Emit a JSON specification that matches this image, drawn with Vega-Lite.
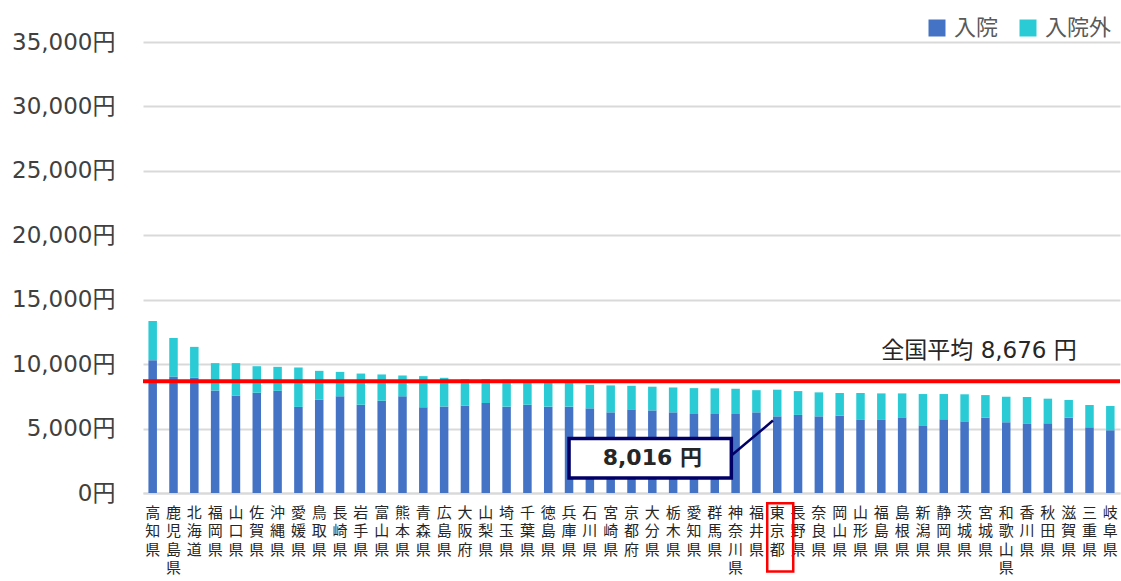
{
  "$schema": "https://vega.github.io/schema/vega-lite/v6.json",
  "autosize": {"type": "none"},
  "width": 977,
  "height": 451,
  "padding": {"left": 143, "top": 42, "right": 1, "bottom": 88},
  "background": "white",
  "config": {
    "view": {"stroke": null},
    "font": "DejaVu Sans, Noto Sans CJK JP, sans-serif"
  },
  "datasets": {
    "main": [
      {"pref": "高知県", "入院": 10310, "入院外": 3040},
      {"pref": "鹿児島県", "入院": 9040, "入院外": 2990},
      {"pref": "北海道", "入院": 8960, "入院外": 2380},
      {"pref": "福岡県", "入院": 7960, "入院外": 2120},
      {"pref": "山口県", "入院": 7570, "入院外": 2510},
      {"pref": "佐賀県", "入院": 7780, "入院外": 2060},
      {"pref": "沖縄県", "入院": 7930, "入院外": 1860},
      {"pref": "愛媛県", "入院": 6680, "入院外": 3060},
      {"pref": "鳥取県", "入院": 7260, "入院外": 2220},
      {"pref": "長崎県", "入院": 7500, "入院外": 1900},
      {"pref": "岩手県", "入院": 6850, "入院外": 2420},
      {"pref": "富山県", "入院": 7160, "入院外": 2040},
      {"pref": "熊本県", "入院": 7500, "入院外": 1620},
      {"pref": "青森県", "入院": 6650, "入院外": 2420},
      {"pref": "広島県", "入院": 6720, "入院外": 2220},
      {"pref": "大阪府", "入院": 6800, "入院外": 2030},
      {"pref": "山梨県", "入院": 6980, "入院外": 1860},
      {"pref": "埼玉県", "入院": 6700, "入院外": 2090},
      {"pref": "千葉県", "入院": 6850, "入院外": 1900},
      {"pref": "徳島県", "入院": 6700, "入院外": 2000},
      {"pref": "兵庫県", "入院": 6700, "入院外": 1950},
      {"pref": "石川県", "入院": 6570, "入院外": 1830},
      {"pref": "宮崎県", "入院": 6260, "入院外": 2090},
      {"pref": "京都府", "入院": 6490, "入院外": 1830},
      {"pref": "大分県", "入院": 6410, "入院外": 1840},
      {"pref": "栃木県", "入院": 6260, "入院外": 1930},
      {"pref": "愛知県", "入院": 6130, "入院外": 2010},
      {"pref": "群馬県", "入院": 6130, "入院外": 1990},
      {"pref": "神奈川県", "入院": 6130, "入院外": 1960},
      {"pref": "福井県", "入院": 6260, "入院外": 1720},
      {"pref": "東京都", "入院": 5950, "入院外": 2066},
      {"pref": "長野県", "入院": 6060, "入院外": 1850},
      {"pref": "奈良県", "入院": 5950, "入院外": 1860},
      {"pref": "岡山県", "入院": 6000, "入院外": 1760},
      {"pref": "山形県", "入院": 5670, "入院外": 2090},
      {"pref": "福島県", "入院": 5670, "入院外": 2060},
      {"pref": "島根県", "入院": 5870, "入院外": 1860},
      {"pref": "新潟県", "入院": 5250, "入院外": 2430},
      {"pref": "静岡県", "入院": 5720, "入院外": 1960},
      {"pref": "茨城県", "入院": 5560, "入院外": 2100},
      {"pref": "宮城県", "入院": 5850, "入院外": 1750},
      {"pref": "和歌山県", "入院": 5490, "入院外": 1980},
      {"pref": "香川県", "入院": 5360, "入院外": 2090},
      {"pref": "秋田県", "入院": 5410, "入院外": 1910},
      {"pref": "滋賀県", "入院": 5850, "入院外": 1370},
      {"pref": "三重県", "入院": 5100, "入院外": 1730},
      {"pref": "岐阜県", "入院": 4870, "入院外": 1880}
    ]
  },
  "layer": [
    {
      "data": {"name": "main"},
      "transform": [{"fold": ["入院", "入院外"], "as": ["type", "value"]}],
      "mark": {"type": "bar", "width": 8.5},
      "encoding": {
        "x": {
          "field": "pref",
          "type": "nominal",
          "sort": null,
          "scale": {
            "domain": ["高知県","鹿児島県","北海道","福岡県","山口県","佐賀県","沖縄県","愛媛県","鳥取県","長崎県","岩手県","富山県","熊本県","青森県","広島県","大阪府","山梨県","埼玉県","千葉県","徳島県","兵庫県","石川県","宮崎県","京都府","大分県","栃木県","愛知県","群馬県","神奈川県","福井県","東京都","長野県","奈良県","岡山県","山形県","福島県","島根県","新潟県","静岡県","茨城県","宮城県","和歌山県","香川県","秋田県","滋賀県","三重県","岐阜県"],
            "paddingInner": 0.59,
            "paddingOuter": 0.26
          },
          "axis": {
            "title": null,
            "labelAngle": 0,
            "labelAlign": "center",
            "labelBaseline": "top",
            "labelExpr": "split(datum.label, '')",
            "labelFont": "Noto Sans CJK JP",
            "labelFontSize": 15,
            "labelLineHeight": 18.5,
            "labelColor": "#262626",
            "labelPadding": 12,
            "labelOverlap": false,
            "ticks": false,
            "domainColor": "#D9D9D9",
            "domainWidth": 2,
            "grid": false
          }
        },
        "y": {
          "field": "value",
          "type": "quantitative",
          "stack": "zero",
          "scale": {"domain": [0, 35000], "nice": false},
          "axis": {
            "title": null,
            "values": [0, 5000, 10000, 15000, 20000, 25000, 30000, 35000],
            "labelExpr": "format(datum.value, ',') + '円'",
            "labelFontSize": 23,
            "labelColor": "#404040",
            "labelPadding": 28,
            "ticks": false,
            "domain": false,
            "gridColor": "#D9D9D9",
            "gridWidth": 2
          }
        },
        "color": {
          "field": "type",
          "type": "nominal",
          "scale": {"domain": ["入院", "入院外"], "range": ["#4472C4", "#2BCBD6"]},
          "legend": {
            "title": null,
            "orient": "none",
            "legendX": 783,
            "legendY": -25,
            "direction": "horizontal",
            "symbolType": "square",
            "symbolSize": 289,
            "symbolStrokeWidth": 0,
            "labelFont": "Noto Sans CJK JP",
            "labelFontSize": 22,
            "labelColor": "#595959",
            "columnPadding": 18,
            "labelOffset": 6
          }
        },
        "order": {"field": "type", "sort": "ascending"}
      }
    },
    {
      "data": {"values": [{"avg": 8676}]},
      "mark": {"type": "rule", "color": "#FF0000", "strokeWidth": 4},
      "encoding": {"y": {"field": "avg", "type": "quantitative"}}
    },
    {
      "data": {"values": [{"label": "全国平均 8,676 円"}]},
      "mark": {"type": "text", "align": "left", "baseline": "middle", "font": "DejaVu Sans, Noto Sans CJK JP", "fontSize": 23, "color": "#262626"},
      "encoding": {
        "x": {"datum": "福島県"},
        "y": {"datum": 11030},
        "text": {"field": "label"}
      }
    },
    {
      "data": {"values": [{}]},
      "mark": {"type": "rule", "color": "#000066", "strokeWidth": 2.5},
      "encoding": {
        "x": {"datum": "神奈川県", "bandPosition": 0},
        "x2": {"datum": "東京都", "bandPosition": 0},
        "y": {"datum": 2910},
        "y2": {"datum": 5620}
      }
    },
    {
      "data": {"values": [{}]},
      "mark": {"type": "rect", "fill": "white", "stroke": "#000066", "strokeWidth": 3.5},
      "encoding": {
        "x": {"datum": "兵庫県", "bandPosition": 0.5},
        "x2": {"datum": "神奈川県", "bandPosition": 0},
        "y": {"datum": 4230},
        "y2": {"datum": 1160}
      }
    },
    {
      "data": {"values": [{"label": "8,016 円"}]},
      "mark": {"type": "text", "align": "center", "baseline": "middle", "fontWeight": "bold", "fontSize": 22, "color": "#262626"},
      "encoding": {
        "x": {"datum": "大分県"},
        "y": {"datum": 2680},
        "text": {"field": "label"}
      }
    },
    {
      "data": {"values": [{}]},
      "mark": {"type": "bar", "width": 26, "fill": null, "fillOpacity": 0, "stroke": "#FF0000", "strokeWidth": 2.5, "xOffset": 3},
      "encoding": {
        "x": {"datum": "東京都"},
        "y": {"datum": -800},
        "y2": {"datum": -6100}
      }
    }
  ]
}
